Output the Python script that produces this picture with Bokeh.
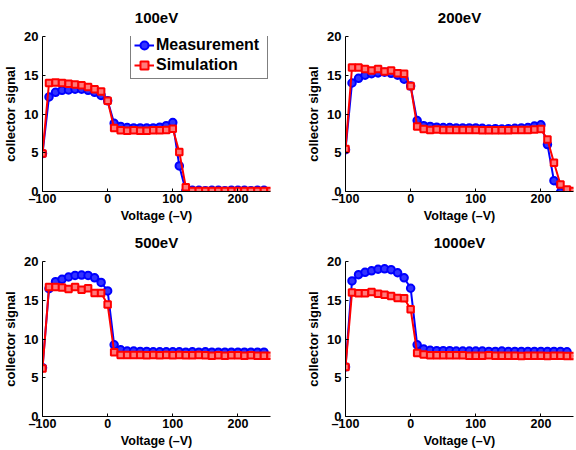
from bokeh.plotting import figure
from bokeh.layouts import gridplot
from bokeh.models import Range1d, FixedTicker, Legend, LegendItem
from bokeh.embed import file_html
from bokeh.resources import INLINE

# ---------------- data ----------------
volt_sim = list(range(-100, 251, 10))          # simulation voltages (36)
volt_meas = list(range(-100, 241, 10))         # measurement voltages (35)
volt_meas_200 = list(range(-100, 231, 10))     # 200 eV measurement (34)

titles = ["100eV", "200eV", "500eV", "1000eV"]

meas_100 = [4.9, 12.2, 12.8, 13.05, 13.1, 13.2, 13.2, 13.05, 12.8, 12.4,
            11.7, 8.8, 8.4, 8.25, 8.2, 8.2, 8.2, 8.2, 8.3, 8.5,
            8.9, 3.3, 0.05, 0.15, 0.15, 0.1, 0.15, 0.15, 0.1, 0.15,
            0.15, 0.15, 0.1, 0.15, 0.15]
sim_100 = [4.9, 14.0, 14.05, 14.0, 13.9, 13.8, 13.7, 13.5, 13.2, 12.9,
           11.7, 8.2, 7.9, 7.85, 7.9, 7.85, 7.85, 7.9, 7.9, 7.95,
           8.1, 5.1, 0.55, 0.05, 0.05, 0.05, 0.05, 0.05, 0.05, 0.05,
           0.05, 0.05, 0.05, 0.05, 0.05, 0.05]

meas_200 = [5.4, 14.0, 14.6, 15.0, 15.2, 15.3, 15.4, 15.25, 15.0, 14.5,
            13.6, 9.15, 8.5, 8.4, 8.3, 8.25, 8.25, 8.2, 8.2, 8.2,
            8.2, 8.15, 8.05, 8.1, 8.05, 8.1, 8.15, 8.2, 8.25, 8.45,
            8.6, 6.05, 1.4, -0.1]
sim_200 = [5.5, 16.0, 16.0, 15.8, 15.6, 15.8, 15.5, 15.6, 15.25, 15.2,
           13.6, 8.4, 8.05, 7.95, 8.0, 7.95, 7.95, 7.95, 7.95, 7.95,
           7.95, 7.9, 7.9, 7.9, 7.9, 7.9, 7.95, 7.95, 7.95, 8.0,
           8.05, 6.7, 3.7, 0.9, 0.25, 0.05]

meas_500 = [6.3, 16.5, 17.4, 17.7, 18.0, 18.2, 18.25, 18.2, 17.9, 17.3,
            16.2, 9.25, 8.6, 8.45, 8.45, 8.4, 8.4, 8.35, 8.35, 8.35,
            8.35, 8.35, 8.3, 8.35, 8.3, 8.35, 8.3, 8.3, 8.3, 8.3,
            8.3, 8.3, 8.3, 8.3, 8.3]
sim_500 = [6.2, 16.7, 16.7, 16.65, 16.45, 16.7, 16.35, 16.55, 15.95, 15.95,
           14.45, 8.3, 7.95, 7.95, 7.95, 7.95, 7.9, 7.95, 7.9, 7.95,
           7.9, 7.95, 7.9, 7.9, 7.95, 7.9, 7.85, 7.9, 7.85, 7.9,
           7.9, 7.85, 7.9, 7.85, 7.85, 7.85]

meas_1000 = [6.4, 17.5, 18.3, 18.6, 18.8, 19.0, 19.05, 18.95, 18.55, 17.9,
             16.55, 9.25, 8.7, 8.55, 8.5, 8.5, 8.5, 8.45, 8.45, 8.45,
             8.45, 8.45, 8.4, 8.4, 8.45, 8.4, 8.4, 8.4, 8.4, 8.4,
             8.4, 8.4, 8.4, 8.4, 8.35]
sim_1000 = [6.4, 16.0, 15.9, 15.9, 16.05, 15.85, 15.7, 15.55, 15.3, 15.25,
            13.85, 8.2, 8.0, 7.9, 7.9, 7.9, 7.9, 7.9, 7.9, 7.85,
            7.85, 7.85, 7.9, 7.85, 7.85, 7.85, 7.85, 7.8, 7.85, 7.85,
            7.85, 7.8, 7.85, 7.85, 7.8, 7.8]

x_ticks = [-100, 0, 100, 200]
y_ticks = [0, 5, 10, 15, 20]
x_label = "Voltage (\u2013V)"
y_label = "collector signal"
legend_labels = ["Measurement", "Simulation"]

FONT = "Liberation Sans"
BLUE = "#0000ff"
RED = "#ff0000"


def make_panel(title, mv, meas, sv, sim, width, left, right, legend=False):
    p = figure(width=width, height=225,
               output_backend="svg", toolbar_location=None,
               x_range=Range1d(-100, 250), y_range=Range1d(0, 20),
               min_border_left=left, min_border_right=right,
               min_border_top=34, min_border_bottom=34, title=title)
    p.outline_line_color = None
    p.grid.visible = False
    p.background_fill_color = "white"
    p.border_fill_color = "white"

    p.title.align = "center"
    p.title.vertical_align = "top"
    p.title.text_font = FONT
    p.title.text_font_style = "bold"
    p.title.text_font_size = "15px"
    p.title.text_color = "black"
    p.title.text_line_height = 1.0
    p.title.standoff = 17

    for ax, ticks in ((p.xaxis, x_ticks), (p.yaxis, y_ticks)):
        ax.ticker = FixedTicker(ticks=ticks)
        ax.major_label_text_font = FONT
        ax.major_label_text_font_style = "bold"
        ax.major_label_text_font_size = "13px"
        ax.major_label_text_color = "black"
        ax.major_label_text_line_height = 1.0
        ax.axis_label_text_font = FONT
        ax.axis_label_text_font_style = "bold"
        ax.axis_label_text_font_size = "13px"
        ax.axis_label_text_color = "black"
        ax.axis_label_text_line_height = 1.0
        ax.axis_line_color = "black"
        ax.axis_line_width = 1
        ax.major_tick_in = 3
        ax.major_tick_out = 0
        ax.minor_tick_in = 0
        ax.minor_tick_out = 0
        ax.major_tick_line_color = "black"
    p.xaxis.major_label_text_font_size = "12.5px"
    p.xaxis.axis_label_text_font_size = "12.5px"
    p.xaxis.major_label_overrides = {-100: "\u2013100"}
    p.xaxis.axis_label = x_label
    p.yaxis.axis_label = y_label
    p.xaxis.major_label_standoff = 0
    p.xaxis.axis_label_standoff = 0
    p.yaxis.major_label_standoff = 4
    p.yaxis.axis_label_standoff = 3

    l1 = p.line(mv, meas, line_color=BLUE, line_width=2)
    s1 = p.scatter(mv, meas, marker="circle", size=7.5, line_color=BLUE,
                   line_width=2, fill_color="#3333ff")
    l2 = p.line(sv, sim, line_color=RED, line_width=2)
    s2 = p.scatter(sv, sim, marker="square", size=6.5, line_color=RED,
                   line_width=2, fill_color="#ff7a7a")

    if legend:
        leg = Legend(items=[LegendItem(label=legend_labels[0], renderers=[l1, s1]),
                            LegendItem(label=legend_labels[1], renderers=[l2, s2])],
                     location=(88, 112))
        leg.border_line_color = "black"
        leg.border_line_width = 1
        leg.background_fill_color = "white"
        leg.background_fill_alpha = 1
        leg.padding = 3
        leg.spacing = 0
        leg.margin = 0
        leg.label_text_font = FONT
        leg.label_text_font_style = "bold"
        leg.label_text_font_size = "16px"
        leg.label_text_color = "black"
        leg.glyph_width = 20
        leg.glyph_height = 20
        leg.label_height = 20
        leg.label_width = 108
        leg.label_standoff = 2
        p.add_layout(leg)
    return p


p1 = make_panel(titles[0], volt_meas, meas_100, volt_sim, sim_100, 303, 42, 33, legend=True)
p2 = make_panel(titles[1], volt_meas_200, meas_200, volt_sim, sim_200, 273, 42, 3)
p3 = make_panel(titles[2], volt_meas, meas_500, volt_sim, sim_500, 303, 42, 33)
p4 = make_panel(titles[3], volt_meas, meas_1000, volt_sim, sim_1000, 273, 42, 3)

grid = gridplot([[p1, p2], [p3, p4]], toolbar_location=None)

open("out.html", "w").write(file_html(grid, INLINE))
